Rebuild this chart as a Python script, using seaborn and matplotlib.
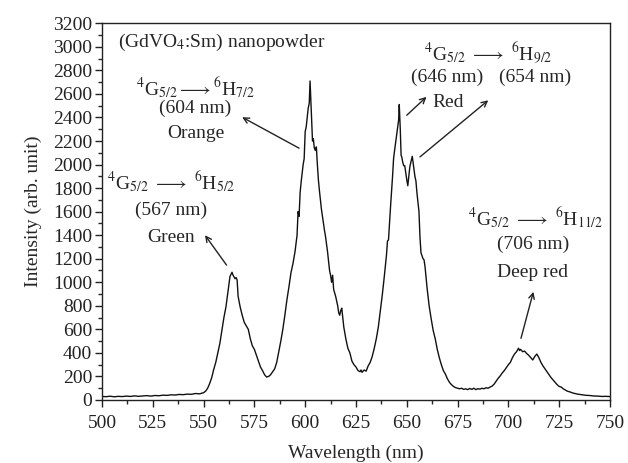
import numpy as np
import pandas as pd
import matplotlib
matplotlib.use('Agg')
import matplotlib.pyplot as plt
import seaborn as sns
from matplotlib.ticker import MultipleLocator

# Espectro de emisión
longitud_onda = [500, 502, 504, 506, 508, 510, 512, 514, 516, 518, 520, 522, 524, 526, 528, 530,
                 532, 534, 536, 538, 540, 542, 544, 546, 548, 550, 551, 552, 553, 554, 555, 556,
                 557, 558, 559, 560, 561, 562, 563, 564, 564.5, 565, 565.5, 566, 566.5, 567, 568,
                 569, 570, 571, 572, 573, 574, 575, 576, 577, 578, 579, 580, 581, 582, 583, 584,
                 585, 586, 587, 588, 589, 590, 591, 592, 593, 594, 595, 596, 596.5, 597, 597.5,
                 598, 599, 599.5, 600, 600.5, 601, 601.5, 602, 602.4, 602.8, 603.2, 603.6, 604,
                 604.5, 605, 605.5, 606, 606.5, 607, 607.5, 608, 609, 609.5, 610, 611, 612, 612.5,
                 613, 613.5, 614, 615, 616, 616.5, 617, 617.5, 618, 618.5, 619, 620, 621, 622,
                 623, 624, 625, 626, 627, 627.5, 628, 629, 630, 631, 632, 633, 634, 635, 636, 637,
                 638, 639, 640, 640.5, 641, 642, 643, 643.5, 644, 645, 646, 646.3, 646.8, 647.2,
                 647.6, 648, 648.5, 649, 649.5, 650, 650.5, 651, 651.5, 652, 652.7, 653.3, 654,
                 654.5, 655, 656, 656.5, 657, 658, 658.5, 659, 660, 661, 662, 663, 664, 665, 666,
                 667, 668, 669, 670, 671, 672, 673, 674, 675, 676, 677, 678, 679, 680, 681, 682,
                 683, 684, 685, 686, 687, 688, 689, 690, 691, 692, 693, 694, 695, 696, 697, 698,
                 699, 700, 701, 702, 703, 704, 705, 705.5, 706, 707, 708, 709, 710, 711, 712, 713,
                 714, 715, 716, 717, 718, 719, 720, 721, 722, 723, 724, 725, 726, 727, 728, 729,
                 730, 732, 734, 736, 738, 740, 742, 744, 746, 748, 750]
intensidad = [30, 28, 32, 27, 31, 29, 33, 30, 35, 31, 34, 37, 33, 38, 36, 41,
              39, 44, 42, 47, 45, 50, 48, 55, 52, 62, 75, 100, 140, 190, 260, 320,
              400, 480, 590, 700, 790, 920, 1050, 1085, 1060, 1045, 1030, 1040, 1020, 880, 790,
              720, 660, 630, 600, 520, 460, 430, 380, 330, 280, 250, 215, 195, 200, 215, 240,
              265, 320, 410, 500, 600, 720, 850, 960, 1080, 1160, 1260, 1400, 1600, 1560, 1760,
              1850, 2000, 2050, 2280, 2320, 2400, 2480, 2520, 2710, 2540, 2350, 2200, 2220,
              2140, 2120, 2150, 2000, 1870, 1780, 1700, 1620, 1500, 1440, 1390, 1260, 1100, 1060,
              1000, 1060, 940, 880, 800, 740, 720, 760, 780, 700, 620, 520, 440, 400,
              330, 300, 280, 250, 240, 255, 235, 255, 245, 290, 320, 370, 440, 520, 620, 760,
              900, 1060, 1230, 1350, 1360, 1640, 1900, 2050, 2120, 2250, 2380, 2510, 2300, 2080,
              2060, 2020, 1990, 1990, 1930, 1870, 1820, 1900, 1980, 2020, 2070, 1990, 1900,
              1860, 1760, 1600, 1380, 1250, 1200, 1190, 1130, 950, 800, 690, 590, 520, 430, 360,
              300, 250, 220, 180, 150, 130, 115, 105, 100, 95, 100, 90, 95, 88, 98, 90,
              100, 88, 96, 92, 100, 95, 104, 100, 110, 118, 135, 160, 185, 205, 230, 250,
              275, 300, 320, 360, 390, 410, 440, 420, 430, 410, 415, 395, 380, 360, 340, 370,
              390, 360, 320, 290, 265, 240, 215, 190, 170, 150, 130, 115, 110, 95, 85, 75,
              70, 58, 50, 45, 40, 38, 34, 33, 30, 31, 29]

df = pd.DataFrame({'wl': longitud_onda, 'I': intensidad})

sns.set_style('ticks')
plt.rcParams['font.family'] = ['Liberation Serif', 'DejaVu Serif']
plt.rcParams['mathtext.fontset'] = 'stix'

fig = plt.figure(figsize=(6.28, 4.63), dpi=100)
ax = fig.add_axes([0.1624, 0.1361, 0.8089, 0.8136])
sns.lineplot(data=df, x='wl', y='I', ax=ax, color='#111111', lw=1.0,
             sort=False, estimator=None)

fs = 14
ax.set_xlim(500, 750)
ax.set_ylim(0, 3200)
ax.xaxis.set_major_locator(MultipleLocator(25))
ax.xaxis.set_minor_locator(MultipleLocator(12.5))
ax.yaxis.set_major_locator(MultipleLocator(200))
ax.yaxis.set_minor_locator(MultipleLocator(100))
ax.tick_params(which='major', direction='out', length=5, width=1, labelsize=fs,
               colors='#222222', pad=2)
ax.tick_params(which='minor', direction='out', length=3, width=1)
ax.tick_params(axis='x', pad=6)
for s in ax.spines.values():
    s.set_color('#222222')
    s.set_linewidth(1)
ax.set_xlabel('Wavelength (nm)', fontsize=fs, labelpad=9)
ax.set_ylabel('Intensity (arb. unit)', fontsize=fs, labelpad=8)

ax.text(508, 3040, '(GdVO$_4$:Sm) nanopowder', fontsize=fs, va='center', ha='left')

ax.text(546, 2650, r'$^4$G$_{5/2}$$\longrightarrow$$^6$H$_{7/2}$', fontsize=fs, ha='center', va='center')
ax.text(546, 2480, '(604 nm)', fontsize=fs, ha='center', va='center')
ax.text(546, 2266, 'Orange', fontsize=fs, ha='center', va='center')

ax.text(534, 1851, r'$^4$G$_{5/2}$ $\longrightarrow$ $^6$H$_{5/2}$', fontsize=fs, ha='center', va='center')
ax.text(534, 1613, '(567 nm)', fontsize=fs, ha='center', va='center')
ax.text(534, 1384, 'Green', fontsize=fs, ha='center', va='center')

ax.text(690, 2945, r'$^4$G$_{5/2}$ $\longrightarrow$ $^6$H$_{9/2}$', fontsize=fs, ha='center', va='center')
ax.text(670, 2740, '(646 nm)', fontsize=fs, ha='center', va='center')
ax.text(713, 2740, '(654 nm)', fontsize=fs, ha='center', va='center')
ax.text(670.5, 2530, 'Red', fontsize=fs, ha='center', va='center')

ax.text(713.5, 1545, r'$^4$G$_{5/2}$ $\longrightarrow$ $^6$H$_{11/2}$', fontsize=fs, ha='center', va='center')
ax.text(712, 1324, '(706 nm)', fontsize=fs, ha='center', va='center')
ax.text(712, 1087, 'Deep red', fontsize=fs, ha='center', va='center')

flecha = dict(arrowstyle='->', color='#222222', lw=1.0, shrinkA=0, shrinkB=0)
ax.annotate('', xy=(569, 2402), xytext=(597, 2139), arrowprops=flecha)
ax.annotate('', xy=(550.7, 1400), xytext=(561.3, 1146), arrowprops=flecha)
ax.annotate('', xy=(659.7, 2575), xytext=(650, 2419), arrowprops=flecha)
ax.annotate('', xy=(690.1, 2546), xytext=(656.5, 2065), arrowprops=flecha)
ax.annotate('', xy=(712.3, 919), xytext=(706.2, 524), arrowprops=flecha)

fig.savefig('out.png', dpi=100)
